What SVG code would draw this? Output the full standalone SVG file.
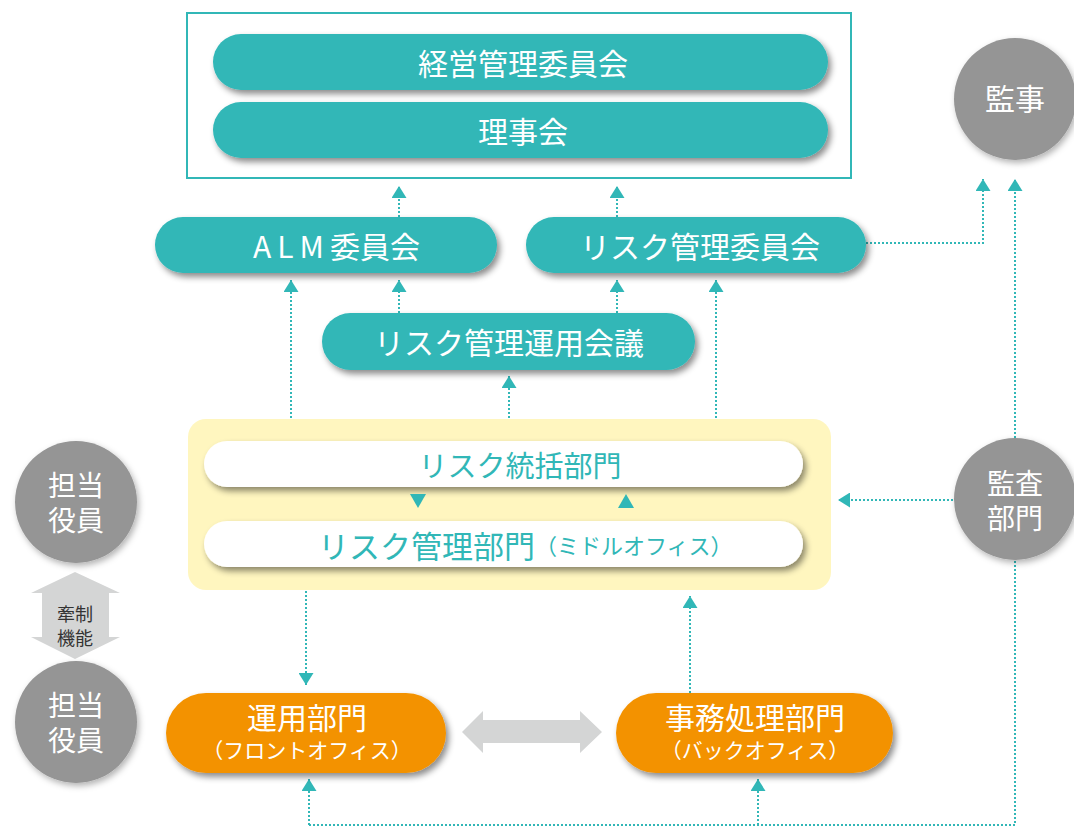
<svg xmlns="http://www.w3.org/2000/svg" width="1074" height="827" viewBox="0 0 1074 827">
<style>
text{font-family:"Noto Sans CJK JP","Noto Sans",sans-serif;}
.tp{fill:#31b7b7;filter:url(#sh);}
.wp{fill:#ffffff;filter:url(#sh);}
.op{fill:#f39200;filter:url(#sh);}
.gc{fill:#959595;filter:url(#sh2);}
.wt{fill:#ffffff;font-size:30px;text-anchor:middle;dominant-baseline:central;}
.tt{fill:#31b7b7;font-size:30px;text-anchor:middle;dominant-baseline:central;}
.ct{fill:#ffffff;font-size:28px;text-anchor:middle;}
.st{fill:#ffffff;font-size:21px;text-anchor:middle;}
.dl{fill:none;stroke:#31b7b7;stroke-width:2;stroke-dasharray:2 2;}
.arr{marker-end:url(#ah);}
.tri{fill:#31b7b7;}
</style>
<defs>
<filter id="sh" x="-10%" y="-30%" width="125%" height="180%">
<feDropShadow dx="3" dy="4" stdDeviation="3" flood-color="#000" flood-opacity="0.45"/>
</filter>
<filter id="sh2" x="-20%" y="-20%" width="150%" height="150%">
<feDropShadow dx="2" dy="3" stdDeviation="3" flood-color="#000" flood-opacity="0.3"/>
</filter>
<marker id="ah" markerUnits="userSpaceOnUse" viewBox="0 0 12 15" refX="12" refY="7.5" markerWidth="12" markerHeight="15" orient="auto">
<path d="M0,0 L12,7.5 L0,15 z" fill="#31b7b7"/>
</marker>
</defs>

<!-- connectors -->
<g id="connectors">
<path class="dl arr" d="M399,217 V186"/>
<path class="dl arr" d="M617,217 V186"/>
<path class="dl arr" d="M866,243 H983 V179"/>
<path class="dl arr" d="M1015,438 V179"/>
<path class="dl arr" d="M291,418 V280"/>
<path class="dl arr" d="M399,313 V280"/>
<path class="dl arr" d="M617,313 V280"/>
<path class="dl arr" d="M716,418 V280"/>
<path class="dl arr" d="M509,418 V376"/>
<path class="dl arr" d="M306,591 V685"/>
<path class="dl arr" d="M690,693 V596"/>
<path class="dl arr" d="M953,500 H838"/>
<path class="dl" d="M1015,561 V825 H309"/>
<path class="dl arr" d="M309,825 V779"/>
<path class="dl arr" d="M758,825 V779"/>
</g>

<!-- top box -->
<g id="top-box">
<rect x="187" y="13" width="664" height="165" fill="#ffffff" stroke="#31b7b7" stroke-width="2"/>
</g>
<g id="keiei">
<rect class="tp" x="213" y="34" width="615" height="56" rx="28"/>
<text class="wt" x="523" y="62">経営管理委員会</text>
</g>
<g id="rijikai">
<rect class="tp" x="213" y="102" width="615" height="56" rx="28"/>
<text class="wt" x="523" y="130">理事会</text>
</g>

<g id="alm">
<rect class="tp" x="155" y="217" width="342" height="56" rx="28"/>
<text class="wt" x="253" y="245" style="text-anchor:start"><tspan letter-spacing="6">ALM</tspan>委員会</text>
</g>
<g id="risk-iinkai">
<rect class="tp" x="526" y="217" width="340" height="56" rx="28"/>
<text class="wt" x="700" y="245">リスク管理委員会</text>
</g>
<g id="risk-kaigi">
<rect class="tp" x="322" y="313" width="373" height="57" rx="28.5"/>
<text class="wt" x="509" y="341">リスク管理運用会議</text>
</g>

<g id="middle-box">
<rect x="188" y="419" width="643" height="171" rx="18" fill="#fff6bf"/>
</g>
<g id="risk-tokatsu">
<rect class="wp" x="204" y="441" width="599" height="46" rx="23"/>
<text class="tt" x="520" y="464" style="font-size:29px">リスク統括部門</text>
</g>
<g id="middle-triangles">
<polygon class="tri" points="410,494 426,494 418,508"/>
<polygon class="tri" points="618,508 634,508 626,494"/>
</g>
<g id="risk-kanri">
<rect class="wp" x="204" y="521" width="599" height="46" rx="23"/>
<text class="tt" x="318" y="544" style="text-anchor:start;font-size:31px">リスク管理部門<tspan style="font-size:22px">（ミドルオフィス）</tspan></text>
</g>

<g id="kansa-ji">
<circle class="gc" cx="1015" cy="99" r="61"/>
<text class="ct" x="1015" y="110" style="font-size:30px">監事</text>
</g>
<g id="kansa-bumon">
<circle class="gc" cx="1015" cy="499" r="61"/>
<text class="ct" x="1015" y="494">監査</text>
<text class="ct" x="1015" y="529">部門</text>
</g>

<g id="tanto1">
<circle class="gc" cx="76" cy="502" r="61"/>
<text class="ct" x="76" y="496">担当</text>
<text class="ct" x="76" y="531">役員</text>
</g>
<g id="kensei">
<polygon points="75,572 120,593 109,593 109,637 120,637 75,659 31,637 42,637 42,593 31,593" fill="#d4d5d5"/>
<text x="75" y="621" style="font-size:18px;fill:#333;text-anchor:middle">牽制</text>
<text x="75" y="645" style="font-size:18px;fill:#333;text-anchor:middle">機能</text>
</g>
<g id="tanto2">
<circle class="gc" cx="76" cy="722" r="61"/>
<text class="ct" x="76" y="716">担当</text>
<text class="ct" x="76" y="751">役員</text>
</g>

<g id="unyo">
<rect class="op" x="166" y="693" width="280" height="80" rx="40"/>
<text class="ct" x="307" y="729" style="font-size:30px">運用部門</text>
<text class="st" x="307" y="758">（フロントオフィス）</text>
</g>
<g id="exchange-arrow">
<polygon points="462,732 483,711 483,720 580,720 580,711 602,732 580,753 580,743 483,743 483,753" fill="#d4d5d5"/>
</g>
<g id="jimu">
<rect class="op" x="616" y="693" width="277" height="80" rx="40"/>
<text class="ct" x="755" y="729" style="font-size:30px">事務処理部門</text>
<text class="st" x="755" y="758">（バックオフィス）</text>
</g>
</svg>
